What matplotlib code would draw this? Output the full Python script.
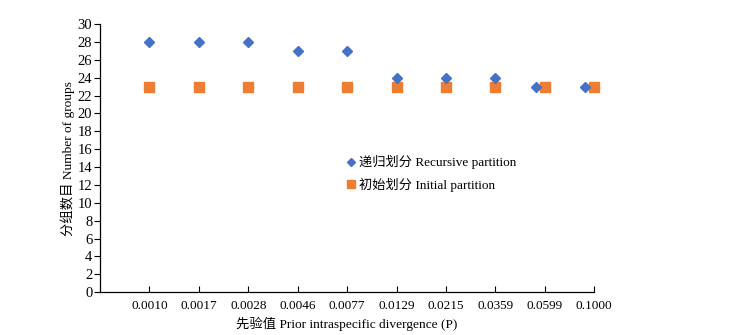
import matplotlib
matplotlib.use("Agg")
import matplotlib.pyplot as plt
import matplotlib.transforms as mtransforms
import numpy as np

plt.rcParams['font.family'] = ['Liberation Serif', 'Noto Sans CJK SC']
plt.rcParams['font.size'] = 9.6

# data
p_labels = ['0.0010', '0.0017', '0.0028', '0.0046', '0.0077',
            '0.0129', '0.0215', '0.0359', '0.0599', '0.1000']
recursive = np.array([28, 28, 28, 27, 27, 24, 24, 24, 23, 23])
initial = np.array([23, 23, 23, 23, 23, 23, 23, 23, 23, 23])

x = np.arange(1, len(p_labels) + 1)
# nudge diamonds left where they would sit on top of the squares
shift = np.where(recursive == initial, -0.18, 0.0)

fig = plt.figure(figsize=(7.3, 3.35), dpi=100)
ax = fig.add_axes([0.137, 0.128, 0.677, 0.8])

ax.plot(x, initial, linestyle='none', marker='s', markersize=7.2,
        color='#ED7D31', label='初始划分 Initial partition', clip_on=False)
ax.plot(x + shift, recursive, linestyle='none', marker='D', markersize=5,
        color='#4472C4', label='递归划分 Recursive partition', clip_on=False)

ax.set_xlim(0, len(p_labels))
ax.set_ylim(0, 30)
ax.set_yticks(np.arange(0, 31, 2))
ax.set_xticks(x)
ax.set_xticklabels(p_labels, fontsize=9.5)
ax.tick_params(axis='y', labelsize=10.5)

offset = mtransforms.ScaledTranslation(-7 / 100, 0, fig.dpi_scale_trans)
for lab in ax.get_xticklabels():
    lab.set_transform(lab.get_transform() + offset)

for side in ['top', 'right']:
    ax.spines[side].set_visible(False)
ax.spines['left'].set_linewidth(0.9)
ax.spines['bottom'].set_linewidth(0.9)
ax.tick_params(axis='x', direction='in', length=4, pad=6)
ax.tick_params(axis='y', direction='out', length=4, pad=1.5)

ax.set_xlabel('先验值 Prior intraspecific divergence (P)', labelpad=3)
ax.set_ylabel('分组数目 Number of groups', labelpad=2)

handles, labels = ax.get_legend_handles_labels()
ax.legend(handles[::-1], labels[::-1], loc='upper left',
          bbox_to_anchor=(0.49, 0.53), frameon=False, fontsize=9.5,
          markerscale=0.75, handlelength=0.6, handletextpad=0.3,
          labelspacing=0.6, borderaxespad=0)

fig.savefig('out.png', dpi=100)
